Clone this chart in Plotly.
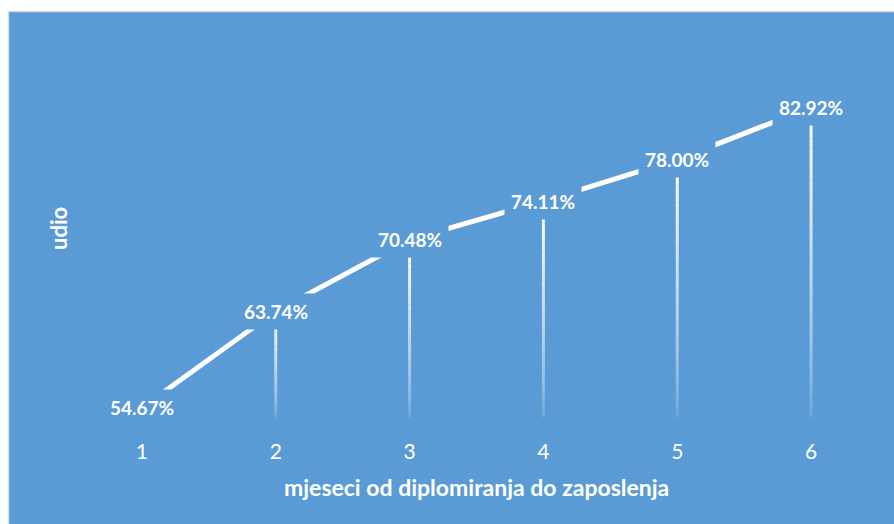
import plotly.graph_objects as go

months = [1, 2, 3, 4, 5, 6]
share = [54.67, 63.74, 70.48, 74.11, 78.00, 82.92]
share_labels = ["54.67%", "63.74%", "70.48%", "74.11%", "78.00%", "82.92%"]
x_title = "mjeseci od diplomiranja do zaposlenja"
y_title = "udio"

BLUE = "#5B9BD5"
WIDTH, HEIGHT = 894, 524
# plot area in page pixels (the page margin is removed below)
PLOT_LEFT, PLOT_RIGHT, PLOT_TOP, PLOT_BOTTOM = 75, 878, 64, 417
MARGIN = dict(l=PLOT_LEFT, r=WIDTH - PLOT_RIGHT, t=PLOT_TOP, b=HEIGHT - PLOT_BOTTOM)
Y_RANGE = [53.8, 87.0]
FONT = "Lato, 'Open Sans', sans-serif"
CHART_LEFT, CHART_TOP = 8.5, 11.5  # outer chart frame

plot_w = PLOT_RIGHT - PLOT_LEFT
plot_h = PLOT_BOTTOM - PLOT_TOP


def px_to_paper_x(px):
    return (px - PLOT_LEFT) / plot_w


def px_to_paper_y(py):
    return (PLOT_BOTTOM - py) / plot_h


fig = go.Figure()

# white line connecting the points
fig.add_trace(
    go.Scatter(
        x=months,
        y=share,
        mode="lines",
        line=dict(color="white", width=5),
        hoverinfo="skip",
        showlegend=False,
    )
)

far_left, far_right = px_to_paper_x(-50), px_to_paper_x(WIDTH + 50)
far_top, far_bottom = px_to_paper_y(-50), px_to_paper_y(HEIGHT + 50)
shapes = [
    # white strips above and left of the chart frame
    dict(type="rect", xref="paper", yref="paper",
         x0=far_left, x1=far_right, y0=px_to_paper_y(CHART_TOP), y1=far_top,
         fillcolor="white", line=dict(width=0), layer="below"),
    dict(type="rect", xref="paper", yref="paper",
         x0=far_left, x1=px_to_paper_x(CHART_LEFT), y0=far_bottom, y1=far_top,
         fillcolor="white", line=dict(width=0), layer="below"),
    # grey frame edges
    dict(type="line", xref="paper", yref="paper",
         x0=px_to_paper_x(CHART_LEFT), x1=far_right,
         y0=px_to_paper_y(CHART_TOP), y1=px_to_paper_y(CHART_TOP),
         line=dict(color="#D9D9D9", width=1.5), layer="below"),
    dict(type="line", xref="paper", yref="paper",
         x0=px_to_paper_x(CHART_LEFT), x1=px_to_paper_x(CHART_LEFT),
         y0=far_bottom, y1=px_to_paper_y(CHART_TOP),
         line=dict(color="#D9D9D9", width=1.5), layer="below"),
]

# drop lines, fading towards the axis
n_steps = 30
for m, v in zip(months, share):
    base = Y_RANGE[0]
    for k in range(n_steps):
        y0 = base + (v - base) * k / n_steps
        y1 = base + (v - base) * (k + 1) / n_steps
        t = (k + 0.5) / n_steps
        alpha = 0.08 + 0.92 * t ** 0.7
        shapes.append(
            dict(
                type="line",
                xref="x",
                yref="y",
                x0=m,
                x1=m,
                y0=y0,
                y1=y1,
                line=dict(color=f"rgba(255,255,255,{alpha:.3f})", width=3),
                layer="below",
            )
        )

annotations = [
    dict(
        x=m,
        y=v,
        xref="x",
        yref="y",
        text=f"<b>{lab}</b>",
        showarrow=False,
        font=dict(family=FONT, size=19, color="white"),
        bgcolor=BLUE,
        borderpad=6,
        xanchor="center",
        yanchor="middle",
    )
    for m, v, lab in zip(months, share, share_labels)
]
annotations.append(
    dict(
        x=0.5,
        y=px_to_paper_y(487),
        xref="paper",
        yref="paper",
        text=f"<b>{x_title}</b>",
        showarrow=False,
        font=dict(family=FONT, size=23, color="white"),
        xanchor="center",
        yanchor="middle",
    )
)
annotations.append(
    dict(
        x=px_to_paper_x(58),
        y=px_to_paper_y(229),
        xref="paper",
        yref="paper",
        text=f"<b>{y_title}</b>",
        textangle=-90,
        showarrow=False,
        font=dict(family=FONT, size=22, color="white"),
        xanchor="center",
        yanchor="middle",
    )
)

fig.update_layout(
    width=WIDTH,
    height=HEIGHT,
    margin=MARGIN,
    paper_bgcolor=BLUE,
    plot_bgcolor="rgba(0,0,0,0)",
    shapes=shapes,
    annotations=annotations,
    showlegend=False,
    xaxis=dict(
        range=[0.5, 6.5],
        tickvals=months,
        ticktext=[str(m) for m in months],
        ticks="outside",
        ticklen=16,
        tickcolor="rgba(0,0,0,0)",
        showgrid=False,
        zeroline=False,
        showline=False,
        tickfont=dict(family=FONT, size=21, color="white"),
        fixedrange=True,
    ),
    yaxis=dict(
        range=Y_RANGE,
        showticklabels=False,
        showgrid=False,
        zeroline=False,
        showline=False,
        fixedrange=True,
    ),
)

# drop the default page margin so the figure fills the window exactly
fig.write_html(
    "out.html",
    config={"displayModeBar": False},
    post_script="document.body.style.margin = '0'; document.body.style.overflow = 'hidden';",
)
